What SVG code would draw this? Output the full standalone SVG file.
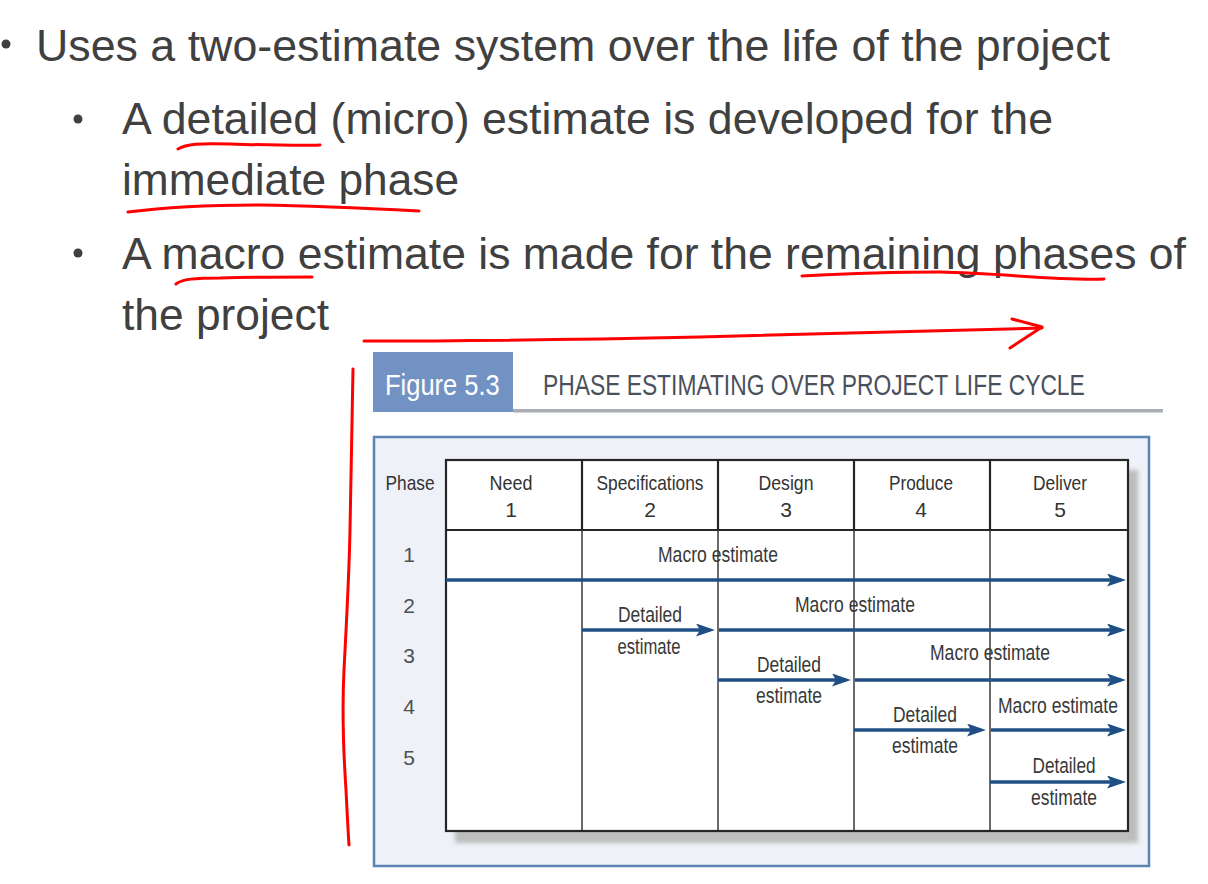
<svg xmlns="http://www.w3.org/2000/svg" width="1208" height="884" viewBox="0 0 1208 884">
  <defs>
    <style>
      .slide { font-family: "Liberation Sans", Arial, sans-serif; font-size: 44.5px; fill: #404040; }
      .bullet { fill: #404040; }
      .ink { fill: none; stroke: #ff0000; stroke-width: 3; stroke-linecap: round; stroke-linejoin: round; }
      .fig { font-family: "Liberation Sans", Arial, sans-serif; }
      .hdr { font-size: 21px; fill: #333333; text-anchor: middle; }
      .lbl { font-size: 22px; fill: #383838; text-anchor: middle; }
      .row { font-size: 21px; fill: #505050; text-anchor: middle; }
      .grid-h { stroke: #262626; stroke-width: 2.2; fill: none; }
      .grid-b { stroke: #3a3a3a; stroke-width: 1.5; fill: none; }
      .est { stroke: #1f4f85; stroke-width: 3.5; fill: none; marker-end: url(#head); }
    </style>
    <marker id="head" viewBox="0 0 19 13" refX="14" refY="6.5" markerWidth="19" markerHeight="13" markerUnits="userSpaceOnUse" orient="auto">
      <path d="M0,0 L19,6.5 L0,13 L4,6.5 Z" fill="#1f4f85"/>
    </marker>
    <filter id="soft" x="-5%" y="-5%" width="110%" height="110%">
      <feGaussianBlur stdDeviation="2"/>
    </filter>
  </defs>

  <rect width="1208" height="884" fill="#ffffff"/>

  <!-- bullet text -->
  <g id="bullets">
    <circle class="bullet" cx="6" cy="44" r="4.5"/>
    <text class="slide" x="36" y="61" textLength="1074" lengthAdjust="spacingAndGlyphs">Uses a two-estimate system over the life of the project</text>
    <circle class="bullet" cx="78" cy="119" r="4.5"/>
    <text class="slide" x="122" y="134" textLength="931" lengthAdjust="spacingAndGlyphs">A detailed (micro) estimate is developed for the</text>
    <text class="slide" x="122" y="195" textLength="337" lengthAdjust="spacingAndGlyphs">immediate phase</text>
    <circle class="bullet" cx="78" cy="253" r="4.5"/>
    <text class="slide" x="122" y="269" textLength="1064" lengthAdjust="spacingAndGlyphs">A macro estimate is made for the remaining phases of</text>
    <text class="slide" x="122" y="330" textLength="207" lengthAdjust="spacingAndGlyphs">the project</text>
  </g>

  <!-- hand-drawn annotations -->
  <g id="annotations">
    <path class="ink" d="M178,149 C186,144 200,143 230,144 C270,145 300,146 320,145"/>
    <path class="ink" d="M128,212 C160,208 200,205 260,205 C320,206 380,209 419,211"/>
    <path class="ink" d="M176,284 C182,279 195,278 220,278 C260,277 290,277 312,277"/>
    <path class="ink" d="M802,276 C840,274 880,272 940,272 C1000,273 1060,281 1104,279"/>
    <path class="ink" d="M364,341 C450,341 560,340 700,337 C800,334 900,331 1042,328"/>
    <path class="ink" d="M1012,319 L1042,327 L1010,348"/>
    <path class="ink" d="M353,369 C352,420 351,480 350,530 C349,580 346,630 344,670 C342,710 344,760 346,790 C347,810 348,830 349,845"/>
  </g>

  <!-- figure heading (narrow lettering) -->
  <g id="fig-title" class="fig">
    <rect x="373" y="352" width="140" height="60" fill="#7392c4"/>
    <text transform="translate(385,395) scale(0.85,1)" font-size="30" fill="#ffffff">Figure 5.3</text>
    <text transform="translate(543,395) scale(0.761,1)" font-size="30" fill="#4a505c">PHASE ESTIMATING OVER PROJECT LIFE CYCLE</text>
    <rect x="513" y="409" width="650" height="3.5" fill="#a9adb6"/>
  </g>

  <!-- figure frame and table -->
  <g id="frame">
    <rect x="374" y="437" width="775" height="429" fill="#eef1f7" stroke="#5b84b5" stroke-width="2.5"/>
    <rect x="455" y="470" width="683" height="373" fill="#bdbdbd" filter="url(#soft)"/>
    <rect x="446" y="460" width="682" height="371" fill="#ffffff"/>
  </g>

  <g id="grid">
    <line class="grid-h" x1="582" y1="460" x2="582" y2="530"/>
    <line class="grid-h" x1="718" y1="460" x2="718" y2="530"/>
    <line class="grid-h" x1="854" y1="460" x2="854" y2="530"/>
    <line class="grid-h" x1="990" y1="460" x2="990" y2="530"/>
    <line class="grid-b" x1="582" y1="530" x2="582" y2="831" stroke-width="2"/>
    <line class="grid-b" x1="718" y1="530" x2="718" y2="831"/>
    <line class="grid-b" x1="854" y1="530" x2="854" y2="831"/>
    <line class="grid-b" x1="990" y1="530" x2="990" y2="831"/>
    <line class="grid-h" x1="446" y1="530" x2="1128" y2="530" stroke-width="2.5"/>
    <rect class="grid-h" x="446" y="460" width="682" height="371"/>
  </g>

  <!-- column headings -->
  <g id="headers" class="fig">
    <text class="hdr" x="410" y="490" textLength="49" lengthAdjust="spacingAndGlyphs">Phase</text>
    <text class="hdr" x="511" y="490" textLength="43" lengthAdjust="spacingAndGlyphs">Need</text>
    <text class="hdr" x="511" y="517">1</text>
    <text class="hdr" x="650" y="490" textLength="107" lengthAdjust="spacingAndGlyphs">Specifications</text>
    <text class="hdr" x="650" y="517">2</text>
    <text class="hdr" x="786" y="490" textLength="55" lengthAdjust="spacingAndGlyphs">Design</text>
    <text class="hdr" x="786" y="517">3</text>
    <text class="hdr" x="921" y="490" textLength="64" lengthAdjust="spacingAndGlyphs">Produce</text>
    <text class="hdr" x="921" y="517">4</text>
    <text class="hdr" x="1060" y="490" textLength="54" lengthAdjust="spacingAndGlyphs">Deliver</text>
    <text class="hdr" x="1060" y="517">5</text>
  </g>

  <!-- phase row numbers -->
  <g id="rows" class="fig">
    <text class="row" x="409" y="562">1</text>
    <text class="row" x="409" y="613">2</text>
    <text class="row" x="409" y="663">3</text>
    <text class="row" x="409" y="714">4</text>
    <text class="row" x="409" y="765">5</text>
  </g>

  <!-- estimate arrows -->
  <g id="connectors">
    <line class="est" x1="446" y1="580" x2="1121" y2="580"/>
    <line class="est" x1="582" y1="630" x2="710" y2="630"/>
    <line class="est" x1="719" y1="630" x2="1121" y2="630"/>
    <line class="est" x1="718" y1="680" x2="846" y2="680"/>
    <line class="est" x1="855" y1="680" x2="1121" y2="680"/>
    <line class="est" x1="854" y1="730" x2="981" y2="730"/>
    <line class="est" x1="991" y1="730" x2="1121" y2="730"/>
    <line class="est" x1="990" y1="782" x2="1121" y2="782"/>
  </g>

  <!-- arrow labels -->
  <g id="labels" class="fig">
    <text class="lbl" x="718" y="562" textLength="120" lengthAdjust="spacingAndGlyphs">Macro estimate</text>
    <text class="lbl" x="650" y="622" textLength="64" lengthAdjust="spacingAndGlyphs">Detailed</text>
    <text class="lbl" x="649" y="654" textLength="63" lengthAdjust="spacingAndGlyphs">estimate</text>
    <text class="lbl" x="855" y="612" textLength="120" lengthAdjust="spacingAndGlyphs">Macro estimate</text>
    <text class="lbl" x="789" y="672" textLength="64" lengthAdjust="spacingAndGlyphs">Detailed</text>
    <text class="lbl" x="789" y="703" textLength="66" lengthAdjust="spacingAndGlyphs">estimate</text>
    <text class="lbl" x="990" y="660" textLength="120" lengthAdjust="spacingAndGlyphs">Macro estimate</text>
    <text class="lbl" x="925" y="722" textLength="64" lengthAdjust="spacingAndGlyphs">Detailed</text>
    <text class="lbl" x="925" y="753" textLength="66" lengthAdjust="spacingAndGlyphs">estimate</text>
    <text class="lbl" x="1058" y="713" textLength="120" lengthAdjust="spacingAndGlyphs">Macro estimate</text>
    <text class="lbl" x="1064" y="773" textLength="63" lengthAdjust="spacingAndGlyphs">Detailed</text>
    <text class="lbl" x="1064" y="805" textLength="66" lengthAdjust="spacingAndGlyphs">estimate</text>
  </g>
</svg>
